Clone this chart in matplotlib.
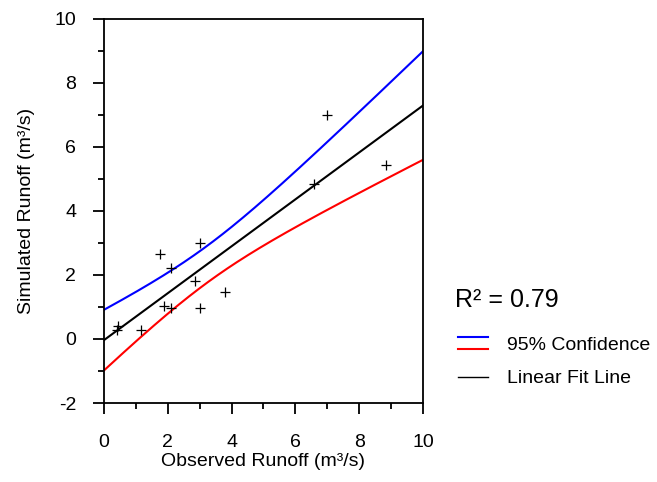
import numpy as np
import matplotlib
matplotlib.use("Agg")
import matplotlib.pyplot as plt
from matplotlib.lines import Line2D

plt.rcParams['font.family'] = ['Liberation Sans', 'DejaVu Sans']
plt.rcParams['axes.unicode_minus'] = False

# observed vs simulated runoff (m3/s)
observed = [3.00, 1.75, 2.09, 2.86, 3.78, 1.88, 2.09, 3.01, 1.15, 0.45, 0.40, 6.98, 8.84, 6.58]
simulated = [3.00, 2.65, 2.23, 1.82, 1.47, 1.04, 0.96, 0.98, 0.28, 0.41, 0.28, 7.01, 5.43, 4.84]

x_ticks = [0, 2, 4, 6, 8, 10]
y_ticks = [-2, 0, 2, 4, 6, 8, 10]
r2_text = "R\u00b2 = 0.79"

x = np.array(observed)
y = np.array(simulated)
n = len(x)

# linear fit + 95% confidence band of the mean
slope, icpt = np.polyfit(x, y, 1)
resid = y - (slope * x + icpt)
s = np.sqrt(np.sum(resid ** 2) / (n - 2))
sxx = np.sum((x - x.mean()) ** 2)
t975 = 2.179  # t(0.975, df=12)

xx = np.linspace(0, 10, 200)
fit = slope * xx + icpt
half = t975 * s * np.sqrt(1.0 / n + (xx - x.mean()) ** 2 / sxx)

fig = plt.figure(figsize=(6.57, 4.82), dpi=100)
ax = fig.add_axes([0.1583, 0.1639, 0.4855, 0.7967])

ax.plot(xx, fit + half, color='#0000ff', lw=1.5)
ax.plot(xx, fit - half, color='#ff0000', lw=1.5)
ax.plot(xx, fit, color='black', lw=1.5)
ax.plot(x, y, '+', color='black', ms=7.5, mew=0.9)

ax.set_xlim(0, 10)
ax.set_ylim(-2, 10)
ax.set_xticks(x_ticks)
ax.set_yticks(y_ticks)
ax.set_xticks(np.arange(1, 10, 2), minor=True)
ax.set_yticks(np.arange(-1, 10, 2), minor=True)
ax.tick_params(which='major', direction='out', length=8, width=1.3, labelsize=14)
ax.tick_params(axis='y', which='major', pad=12)
ax.tick_params(axis='x', which='major', pad=14)
ax.tick_params(which='minor', direction='out', length=4, width=1.3)
for sp in ax.spines.values():
    sp.set_linewidth(1.3)

ax.set_xlabel("Observed Runoff (m\u00b3/s)", fontsize=14, labelpad=2)
ax.set_ylabel("Simulated Runoff (m\u00b3/s)", fontsize=14, labelpad=14)

# R^2 and legend, placed by hand in figure coordinates
fig.text(0.6925, 0.378, r2_text, fontsize=18, va='center', ha='left')
fig.add_artist(Line2D([0.697, 0.743], [0.3008, 0.3008], color='#0000ff', lw=1.5, transform=fig.transFigure))
fig.add_artist(Line2D([0.697, 0.743], [0.2760, 0.2760], color='#ff0000', lw=1.5, transform=fig.transFigure))
fig.add_artist(Line2D([0.697, 0.743], [0.2178, 0.2178], color='black', lw=1.0, transform=fig.transFigure))
fig.text(0.7717, 0.2840, "95% Confidence", fontsize=14, va='center', ha='left')
fig.text(0.7717, 0.2150, "Linear Fit Line", fontsize=14, va='center', ha='left')

fig.savefig("out.png", dpi=100)
